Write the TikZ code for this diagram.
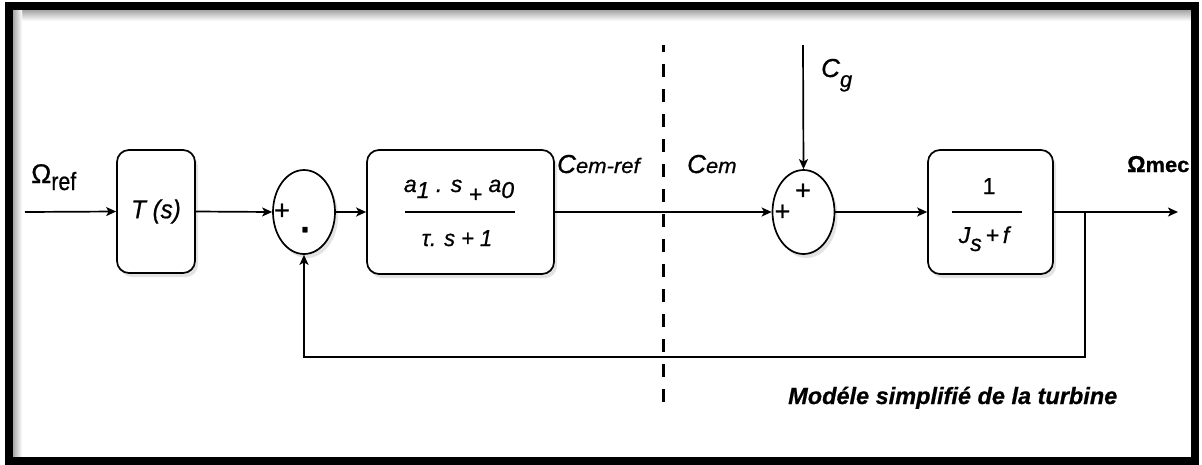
\documentclass[tikz,border=0pt]{standalone}
\usepackage{fontspec}
\setmainfont{Liberation Sans}[FakeBold=0.7]
\usetikzlibrary{arrows.meta,shapes.geometric,shadows}
\begin{document}
\begin{tikzpicture}[x=1pt,y=-1pt,
  lw/.style={line width=1.7pt},
  conn/.style={lw,-{Stealth[length=10pt,width=9pt,inset=2.5pt]}},
  shad/.style={drop shadow={opacity=0.22,shadow xshift=3pt,shadow yshift=-4pt}},
  blk/.style={draw,lw,rounded corners=12pt,fill=white,shad,inner sep=0pt},
  sumnode/.style={draw,lw,ellipse,fill=white,shad,minimum width=62pt,minimum height=84pt,inner sep=0pt},
  lbl/.style={inner sep=0pt,anchor=base west},
  txt/.style={inner sep=0pt},
  plus/.style={inner sep=0pt,font=\fontsize{27}{27}\selectfont},
]
\useasboundingbox (0,0) rectangle (1202,464);
\fill[white] (0,0) rectangle (1202,464);
% frame with inner shadow
\shade[top color=black!35,bottom color=white] (13,10) rectangle (1191,21);
\shade[left color=black!35,right color=white] (13,10) rectangle (22,457);
\draw[line width=8pt] (9,6) rectangle (1195,461);

% blocks
\node[blk,minimum width=78pt,minimum height=123pt,font=\fontsize{26}{26}\selectfont] (T) at (156,211.5) {\scalebox{0.93}[1]{\itshape T (s)}};
\node[sumnode] (S1) at (304,212) {};
\node[blk,minimum width=187pt,minimum height=124pt] (G) at (460.5,212) {};
\node[sumnode] (S2) at (803.5,212) {};
\node[blk,minimum width=125pt,minimum height=124pt] (H) at (990.5,212) {};

% signs
\node[plus] (p1) at (282,211.5) {+};
\node[txt,font=\fontsize{18}{18}\selectfont\bfseries] (m1) at (305,234) {\scalebox{1}[2.4]{-}};
\node[plus] (p2) at (782.5,212.5) {+};
\node[plus] (p3) at (803,191.5) {+};

% transfer function of G
\node[txt,anchor=base,font=\fontsize{23}{23}\selectfont\itshape] (Gn) at (459,192)
  {a\raisebox{-6pt}{1} . s \raisebox{-10pt}{+} a\raisebox{-6pt}{0}};
\coordinate (gl1) at (405,212);
\coordinate (gl2) at (515,212);
\draw[lw] (gl1) -- (gl2);
\node[txt,anchor=base,font=\fontsize{23}{23}\selectfont\itshape] (Gd) at (457,246) {\scalebox{0.95}[1]{τ. s + 1}};

% transfer function of H
\node[txt,anchor=base,font=\fontsize{23}{23}\selectfont] (Hn) at (989,194) {1};
\coordinate (hl1) at (952,212);
\coordinate (hl2) at (1022,212);
\draw[lw] (hl1) -- (hl2);
\node[txt,anchor=base,font=\fontsize{23}{23}\selectfont\itshape] (Hd) at (984,243) {J\raisebox{-8pt}{s}\,+\,f};

% coordinates
\coordinate (in) at (25,212);
\coordinate (out) at (1178,212);
\coordinate (br) at (1085,212);
\coordinate (fb) at (1085,357);
\coordinate (cg) at (803,45);
\coordinate (dtop) at (663,45);
\coordinate (dbot) at (663,403);

% connectors
\draw[conn] (in) -- (T.west);
\draw[conn] (T.east) -- (S1.west);
\draw[conn] (S1.east) -- (G.west);
\draw[conn] (G.east) -- (S2.west);
\draw[conn] (cg) -- (S2.north);
\draw[conn] (S2.east) -- (H.west);
\draw[conn] (H.east) -- (out);
\draw[conn] (br) -- (fb) -| (S1.south);

% dashed separator
\draw[line width=3pt,dash pattern=on 13pt off 12pt,dash phase=6pt] (dtop) -- (dbot);

% labels
\node[lbl,font=\fontsize{27}{27}\selectfont] (Lref) at (31,183) {Ω\raisebox{-7pt}{\scalebox{0.85}[1]{\fontsize{25}{25}\selectfont ref}}};
\node[lbl,font=\fontsize{26}{26}\selectfont] (Lcer) at (557,173) {\itshape C\scalebox{1.05}[1]{\fontsize{21}{21}\selectfont em-ref}};
\node[lbl,font=\fontsize{26}{26}\selectfont] (Lce) at (687,173) {\itshape C\scalebox{1.05}[1]{\fontsize{21}{21}\selectfont em}};
\node[lbl,font=\fontsize{26}{26}\selectfont] (Lcg) at (821,77) {\itshape C\raisebox{-10pt}{\fontsize{22}{22}\selectfont g}};
\node[lbl,font=\fontsize{23}{23}\selectfont\bfseries] (Lmec) at (1127,172) {Ω\scalebox{1.04}[1]{\fontsize{21}{21}\selectfont mec}};
\node[lbl,font=\fontsize{23.5}{23.5}\selectfont\bfseries\itshape] (Lmod) at (788,404) {Modéle simplifié de la turbine};
\end{tikzpicture}
\end{document}
